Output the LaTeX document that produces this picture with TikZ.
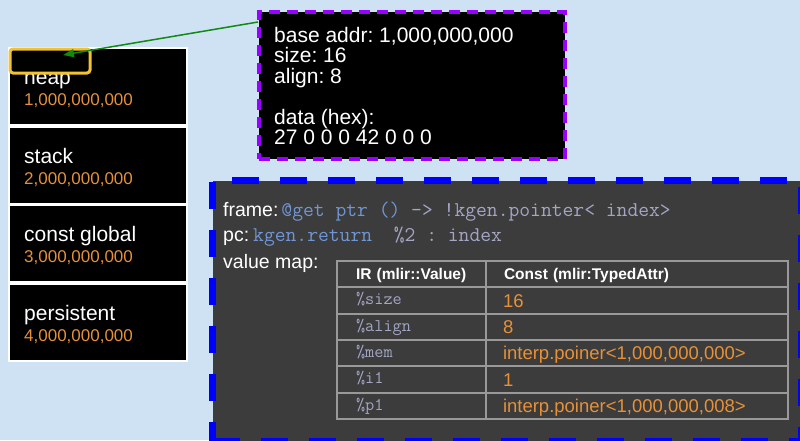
\documentclass[tikz,border=0pt]{standalone}
\usepackage{fontspec}
\setmainfont{Liberation Sans}
\usetikzlibrary{arrows.meta}
\frenchspacing

\definecolor{bgblue}{HTML}{CFE2F3}
\definecolor{numorange}{HTML}{E69138}
\definecolor{hlyellow}{HTML}{F1C232}
\definecolor{memviolet}{HTML}{9900FF}
\definecolor{framegray}{HTML}{3C3C3C}
\definecolor{gridgray}{HTML}{999999}
\definecolor{codeblue}{HTML}{7096D6}
\definecolor{codegray}{HTML}{A3A6C4}
\definecolor{linkgreen}{HTML}{108A10}

\newcommand\fsz[2]{\fontsize{#1}{#2}\selectfont}

\begin{document}
\begin{tikzpicture}[x=1pt,y=-1pt,
  segbox/.style={draw=white, line width=1.5pt, fill=black, minimum width=178pt,
    minimum height=77pt, anchor=north west, inner sep=0pt},
  seglabel/.style={anchor=base west, inner sep=0pt, text=white, font=\fsz{21}{24}},
  segaddr/.style={anchor=base west, inner sep=0pt, text=numorange, font=\fsz{17}{20}},
  ftext/.style={anchor=base west, inner sep=0pt, text=white, font=\fsz{19.5}{22}},
  cell/.style={draw=gridgray, line width=2pt, minimum height=26.3pt, anchor=north west,
    inner ysep=0pt, align=left, text depth=0pt},
  irhead/.style={cell, inner xsep=19pt, text width=111pt, text height=11.1pt,
    text=white, font=\fsz{15.5}{18}\bfseries},
  cvhead/.style={cell, inner xsep=18pt, text width=266pt, text height=11.1pt,
    text=white, font=\fsz{15.5}{18}\bfseries},
  ircell/.style={cell, inner xsep=19pt, text width=111pt, text height=9pt,
    text=codegray, font=\ttfamily\fsz{17.8}{20}},
  cvcell/.style={cell, inner xsep=17pt, text width=268pt, text height=13.3pt,
    text=numorange, font=\fsz{18.5}{21}},
]
\useasboundingbox (0,0) rectangle (800,440);
\fill[bgblue] (0,0) rectangle (800,440);

% memory segments
\node[segbox] (heap) at (8,47) {};
\node[segbox] (stack) at (8,126) {};
\node[segbox] (constglobal) at (8,204) {};
\node[segbox] (persistent) at (8,283) {};

\node[seglabel] (heapname) at (24,84) {heap};
\node[segaddr] (heapaddr) at (24,105) {1,000,000,000};
\node[seglabel] (stackname) at (24,163) {stack};
\node[segaddr] (stackaddr) at (24,184) {2,000,000,000};
\node[seglabel] (constname) at (24,241) {const global};
\node[segaddr] (constaddr) at (24,262) {3,000,000,000};
\node[seglabel] (persname) at (24,320) {persistent};
\node[segaddr] (persaddr) at (24,341) {4,000,000,000};

% highlighted allocation inside the heap
\node[draw=hlyellow, line width=3pt, fill=black, rounded corners=3pt,
  minimum width=80pt, minimum height=24pt, anchor=north west, inner sep=0pt]
  (alloc) at (8.5,47.5) {};

% allocation details
\node[draw=memviolet, line width=4pt, dash pattern=on 11pt off 7pt, fill=black,
  minimum width=306pt, minimum height=147pt, anchor=north west, inner sep=0pt]
  (mem) at (257,10) {};
\node[anchor=north west, inner sep=0pt, align=left, text=white, font=\fsz{21}{20.5}]
  (memtext) at (274,26.7)
  {base addr: 1,000,000,000\\size: 16\\align: 8\\[20.5pt]data (hex):\\27 0 0 0 42 0 0 0};

\coordinate (linkstart) at (258,22);
\coordinate (linkend) at (63,55);
\draw[linkgreen, line width=1.5pt, -{Triangle[length=11pt,width=8pt]}] (linkstart) -- (linkend);

% interpreter frame
\node[draw=blue, line width=7pt, dash pattern=on 27pt off 21pt, fill=framegray,
  minimum width=589pt, minimum height=260.5pt, anchor=north west, inner sep=0pt]
  (frame) at (209,177) {};

\node[ftext] (framelbl) at (223,216) {frame:\hspace{3pt}{\ttfamily\fsz{21}{22}%
  \color{codeblue}@get ptr () \color{codegray}-> !kgen.pointer< index>}};
\node[ftext] (pclbl) at (223,241) {pc:\hspace{4pt}{\ttfamily\fsz{21}{22}%
  \color{codeblue}kgen.return\color{codegray}\ \ \%2 : index}};
\node[ftext] (vmlbl) at (223,268) {value map:};

% value map table
\node[irhead] (th1) at (336,260) {IR (mlir::Value)};
\node[cvhead] (th2) at (485,260) {Const (mlir:TypedAttr)};
\node[ircell] (ir1) at (336,286.3) {\%size};
\node[cvcell] (cv1) at (485,286.3) {16};
\node[ircell] (ir2) at (336,312.6) {\%align};
\node[cvcell] (cv2) at (485,312.6) {8};
\node[ircell] (ir3) at (336,338.9) {\%mem};
\node[cvcell] (cv3) at (485,338.9) {interp.poiner<1,000,000,000>};
\node[ircell] (ir4) at (336,365.2) {\%i1};
\node[cvcell] (cv4) at (485,365.2) {1};
\node[ircell] (ir5) at (336,391.5) {\%p1};
\node[cvcell] (cv5) at (485,391.5) {interp.poiner<1,000,000,008>};
\end{tikzpicture}
\end{document}
